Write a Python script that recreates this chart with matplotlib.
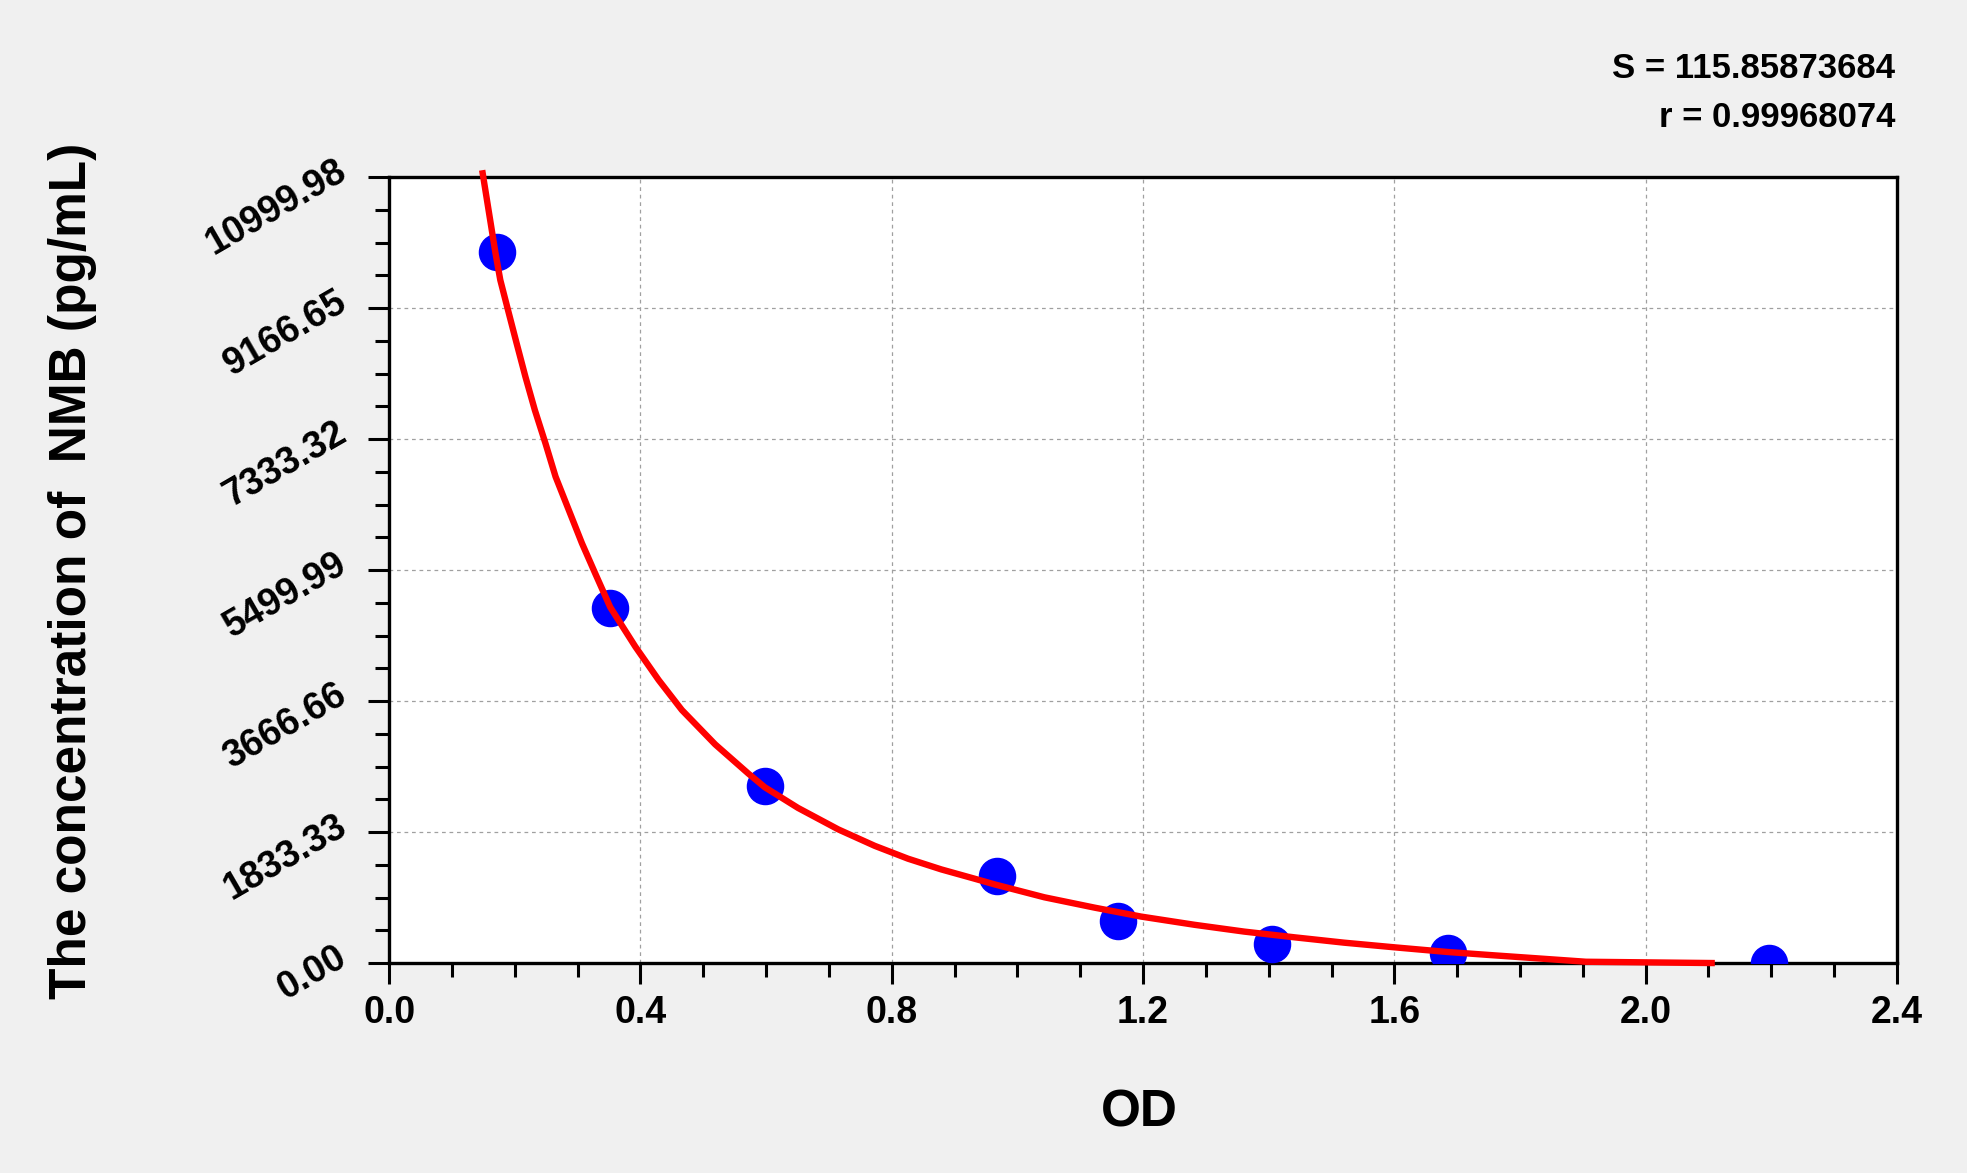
import matplotlib
matplotlib.use('Agg')
import matplotlib.pyplot as plt

# standard points (OD, concentration pg/mL)
od = [0.171, 0.352, 0.599, 0.967, 1.160, 1.405, 1.686, 2.197]
conc = [9954, 4964, 2477, 1218, 588, 270, 135, 0]

# fitted curve
curve_od = [0.149, 0.169, 0.177, 0.189, 0.203, 0.217, 0.232, 0.249, 0.265,
            0.286, 0.307, 0.328, 0.352, 0.392, 0.429, 0.466, 0.519, 0.572,
            0.598, 0.651, 0.715, 0.773, 0.826, 0.879, 0.932, 0.964, 1.043,
            1.123, 1.197, 1.282, 1.361, 1.441, 1.520, 1.600, 1.684, 1.752,
            1.905, 2.105]
curve_conc = [11051, 9954, 9559, 9148, 8673, 8205, 7739, 7270, 6806,
              6340, 5874, 5454, 4980, 4427, 3961, 3541, 3060, 2650,
              2460, 2170, 1870, 1640, 1460, 1310, 1180, 1100, 920,
              775, 650, 535, 440, 360, 285, 220, 155, 112,
              18, 0]

y_ticks = [0, 1833.33, 3666.66, 5499.99, 7333.32, 9166.65, 10999.98]
y_labels = ['0.00', '1833.33', '3666.66', '5499.99', '7333.32', '9166.65', '10999.98']
x_ticks = [0.0, 0.4, 0.8, 1.2, 1.6, 2.0, 2.4]
x_labels = ['0.0', '0.4', '0.8', '1.2', '1.6', '2.0', '2.4']

plt.rcParams['font.family'] = ['Liberation Sans', 'DejaVu Sans']
plt.rcParams['font.weight'] = 'bold'

fig = plt.figure(figsize=(19.67, 11.73), dpi=100, facecolor='#f0f0f0')
ax = fig.add_axes([0.1978, 0.1790, 0.7666, 0.6701])
ax.set_facecolor('white')

ax.plot(od, conc, 'o', color='#0000ff', markersize=26, zorder=3)
ax.plot(curve_od, curve_conc, color='#ff0000', lw=4.6, zorder=4, clip_on=False,
        solid_joinstyle='round')

ax.set_xlim(0, 2.4)
ax.set_ylim(0, 10999.98)

ax.set_xticks(x_ticks)
ax.set_xticklabels(x_labels, fontsize=27, fontweight='bold')
ax.set_xticks([i * 0.1 for i in range(25)], minor=True)
ax.set_yticks(y_ticks)
ax.set_yticklabels(y_labels, fontsize=27, fontweight='bold',
                   rotation=30, ha='right', va='baseline', rotation_mode='anchor')
ax.set_yticks([i * 1833.33 / 4 for i in range(25)], minor=True)

ax.tick_params(axis='both', which='major', direction='out', length=15, width=2.2, color='black')
ax.tick_params(axis='both', which='minor', direction='out', length=10, width=2.2, color='black')
ax.tick_params(axis='x', which='major', pad=8)
ax.tick_params(axis='y', which='major', pad=14)

for s in ax.spines.values():
    s.set_linewidth(2.4)
    s.set_color('black')

ax.grid(True, which='major', color='#a0a0a0', linestyle=(0, (3, 3)), linewidth=0.9)
ax.set_axisbelow(True)

fig.text(0.037, 0.513, 'The concentration of  NMB (pg/mL)', rotation=90,
         ha='center', va='center', fontsize=37, fontweight='bold')
fig.text(0.579, 0.051, 'OD', ha='center', va='center', fontsize=37, fontweight='bold')

fig.text(0.9634, 0.9335, 'S = 115.85873684', ha='right', va='baseline',
         fontsize=25, fontweight='bold')
fig.text(0.9634, 0.8917, 'r = 0.99968074', ha='right', va='baseline',
         fontsize=25, fontweight='bold')

fig.savefig('out.png', dpi=100, facecolor=fig.get_facecolor())
